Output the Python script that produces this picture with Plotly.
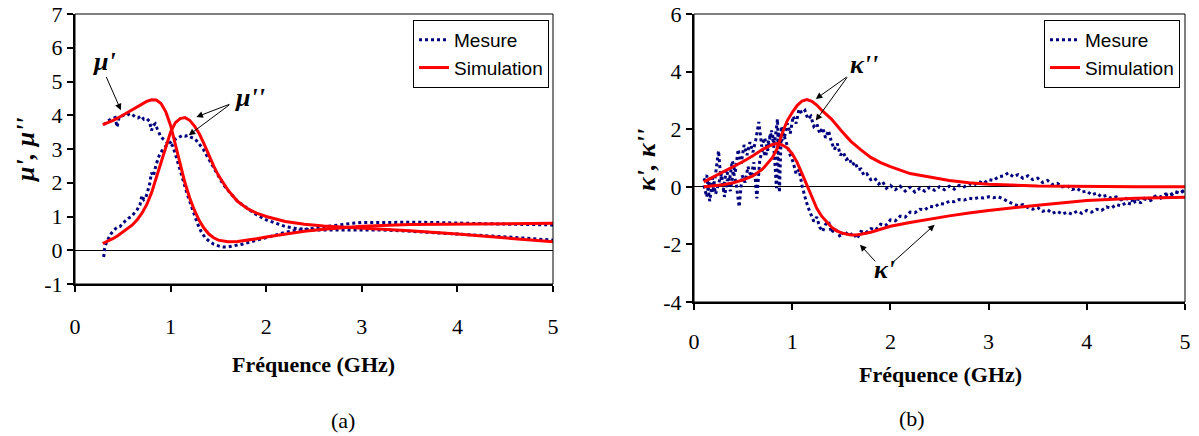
import plotly.graph_objects as go

# ---------------- Panel (a): permeability mu', mu'' ----------------
mu_meas_re_x = [0.30,0.33,0.36,0.39,0.42,0.44,0.46,0.48,0.51,0.54,0.57,0.60,0.63,0.66,0.69,0.72,0.75,0.78,0.80,0.82,0.84,0.86,0.88,0.90,0.93,0.96,0.99,1.02,1.05,1.08,1.11,1.14,1.17,1.20,1.24,1.28,1.32,1.36,1.40,1.45,1.50,1.55,1.60,1.65,1.70,1.75,1.80,1.90,2.00,2.10,2.20,2.30,2.40,2.50,2.60,2.70,2.80,2.90,3.00,3.20,3.40,3.60,3.80,4.00,4.20,4.40,4.60,4.80,5.00]
mu_meas_re_y = [3.72,3.80,3.86,3.90,3.93,3.65,3.92,3.96,4.00,3.98,4.05,4.02,3.95,3.92,3.98,3.88,3.90,3.82,3.55,3.70,3.75,3.60,3.45,3.35,3.28,3.20,3.18,3.10,2.85,2.55,2.25,1.95,1.70,1.45,1.10,0.80,0.55,0.38,0.28,0.18,0.13,0.10,0.10,0.12,0.15,0.18,0.22,0.30,0.36,0.45,0.53,0.58,0.62,0.66,0.70,0.74,0.78,0.80,0.82,0.83,0.84,0.83,0.82,0.80,0.80,0.78,0.77,0.76,0.75]

mu_meas_im_x = [0.30,0.31,0.33,0.35,0.38,0.41,0.44,0.47,0.50,0.53,0.56,0.59,0.62,0.65,0.68,0.70,0.72,0.74,0.76,0.78,0.80,0.82,0.85,0.88,0.91,0.94,0.97,1.00,1.03,1.06,1.09,1.12,1.15,1.18,1.21,1.24,1.27,1.30,1.34,1.38,1.42,1.46,1.50,1.55,1.60,1.65,1.70,1.75,1.80,1.90,2.00,2.10,2.20,2.30,2.40,2.50,2.60,2.70,2.80,2.90,3.00,3.20,3.40,3.60,3.80,4.00,4.20,4.40,4.60,4.80,5.00]
mu_meas_im_y = [-0.20,0.05,0.25,0.35,0.50,0.60,0.68,0.70,0.80,0.88,0.95,1.00,1.10,1.20,1.35,1.62,1.50,1.55,1.75,1.95,2.30,2.20,2.55,2.80,2.95,3.05,3.15,3.20,3.28,3.30,3.36,3.40,3.38,3.40,3.35,3.32,3.25,3.15,3.00,2.80,2.60,2.40,2.20,1.95,1.78,1.60,1.45,1.35,1.25,1.05,0.90,0.80,0.70,0.65,0.62,0.60,0.60,0.60,0.61,0.62,0.62,0.60,0.58,0.55,0.52,0.48,0.45,0.42,0.38,0.34,0.30]

mu_sim_x = [0.29,0.35,0.40,0.45,0.50,0.55,0.60,0.65,0.70,0.75,0.80,0.85,0.90,0.95,1.00,1.05,1.10,1.15,1.20,1.25,1.30,1.35,1.40,1.45,1.50,1.60,1.70,1.80,1.90,2.00,2.20,2.40,2.60,2.80,3.00,3.50,4.00,4.50,5.00]
mu_sim_re = [3.72,3.78,3.85,3.92,4.00,4.08,4.16,4.25,4.33,4.41,4.46,4.45,4.35,4.10,3.70,3.15,2.55,2.00,1.55,1.18,0.88,0.65,0.48,0.37,0.30,0.25,0.26,0.29,0.34,0.39,0.48,0.56,0.62,0.67,0.71,0.76,0.78,0.79,0.80]
mu_sim_im = [0.20,0.27,0.35,0.44,0.55,0.65,0.75,0.90,1.10,1.35,1.70,2.15,2.60,3.10,3.50,3.78,3.90,3.93,3.85,3.68,3.45,3.15,2.82,2.50,2.22,1.78,1.45,1.24,1.10,1.00,0.85,0.77,0.72,0.69,0.66,0.58,0.48,0.37,0.25]

# ---------------- Panel (b): kappa', kappa'' ----------------
k_meas_re_x = [0.10,0.13,0.16,0.19,0.22,0.25,0.27,0.30,0.33,0.36,0.39,0.42,0.45,0.48,0.51,0.54,0.57,0.60,0.63,0.66,0.69,0.72,0.75,0.78,0.81,0.84,0.86,0.89,0.92,0.95,0.98,1.01,1.04,1.07,1.10,1.13,1.16,1.19,1.22,1.25,1.28,1.31,1.34,1.37,1.40,1.43,1.46,1.49,1.52,1.55,1.58,1.62,1.66,1.70,1.75,1.80,1.85,1.90,1.95,2.00,2.05,2.10,2.15,2.20,2.25,2.30,2.35,2.40,2.45,2.50,2.55,2.60,2.65,2.70,2.75,2.80,2.85,2.90,2.95,3.00,3.05,3.10,3.15,3.20,3.25,3.30,3.35,3.40,3.45,3.50,3.55,3.60,3.65,3.70,3.75,3.80,3.85,3.90,3.95,4.00,4.05,4.10,4.15,4.20,4.25,4.30,4.35,4.40,4.45,4.50,4.55,4.60,4.65,4.70,4.75,4.80,4.85,4.90,4.95,5.00]
k_meas_re_y = [0.05,-0.35,0.30,-0.20,0.45,1.25,0.40,-0.10,0.60,0.20,0.90,0.50,1.30,0.80,1.45,1.10,1.55,1.20,1.65,2.25,1.40,1.70,1.25,1.85,1.55,-0.05,1.90,1.60,1.75,1.40,1.10,0.85,0.45,0.60,0.05,-0.35,-0.70,-0.95,-1.20,-1.05,-1.40,-1.55,-1.30,-1.20,-1.60,-1.45,-1.55,-1.75,-1.55,-1.60,-1.70,-1.60,-1.80,-1.55,-1.60,-1.45,-1.50,-1.30,-1.35,-1.15,-1.18,-1.02,-1.05,-0.88,-0.90,-0.78,-0.80,-0.68,-0.70,-0.58,-0.60,-0.50,-0.52,-0.44,-0.46,-0.40,-0.42,-0.37,-0.39,-0.35,-0.38,-0.35,-0.42,-0.52,-0.60,-0.66,-0.62,-0.72,-0.78,-0.72,-0.85,-0.80,-0.92,-0.85,-0.95,-0.88,-0.95,-0.85,-0.92,-0.82,-0.88,-0.78,-0.82,-0.70,-0.74,-0.62,-0.66,-0.55,-0.60,-0.50,-0.55,-0.42,-0.48,-0.36,-0.40,-0.28,-0.32,-0.18,-0.22,-0.10]

k_meas_im_x = [0.10,0.13,0.16,0.19,0.22,0.25,0.28,0.31,0.34,0.37,0.40,0.43,0.46,0.49,0.52,0.55,0.58,0.61,0.64,0.67,0.70,0.73,0.76,0.79,0.82,0.85,0.87,0.89,0.92,0.95,0.98,1.01,1.04,1.07,1.10,1.13,1.16,1.19,1.22,1.25,1.28,1.31,1.34,1.37,1.40,1.43,1.46,1.49,1.52,1.55,1.58,1.61,1.64,1.67,1.70,1.73,1.76,1.80,1.84,1.88,1.92,1.96,2.00,2.05,2.10,2.15,2.20,2.25,2.30,2.35,2.40,2.45,2.50,2.55,2.60,2.65,2.70,2.75,2.80,2.85,2.90,2.95,3.00,3.05,3.10,3.15,3.20,3.25,3.30,3.35,3.40,3.45,3.50,3.55,3.60,3.65,3.70,3.75,3.80,3.85,3.90,3.95,4.00,4.05,4.10,4.15,4.20,4.25,4.30,4.35,4.40,4.45,4.50,4.55,4.60,4.65,4.70,4.75,4.80,4.85,4.90,4.95,5.00]
k_meas_im_y = [0.20,0.40,-0.50,0.30,-0.25,0.15,0.45,-0.35,0.25,-0.15,0.55,0.10,-0.70,0.40,0.15,0.70,0.35,0.85,-0.40,0.95,1.30,1.05,1.60,1.95,1.50,2.35,-0.20,2.10,1.70,2.20,1.85,2.45,2.20,2.70,2.55,2.65,2.35,2.45,2.10,2.20,1.85,2.05,1.70,1.95,1.55,1.30,1.50,1.10,1.20,0.95,1.00,0.75,0.85,0.60,0.62,0.40,0.45,0.25,0.30,0.10,0.18,-0.05,0.05,-0.10,0.02,-0.15,-0.02,-0.18,-0.05,-0.15,-0.02,-0.12,0.00,-0.10,0.02,-0.08,0.05,0.00,0.10,0.05,0.18,0.12,0.25,0.22,0.35,0.38,0.48,0.35,0.42,0.30,0.38,0.25,0.30,0.15,0.22,0.08,0.12,0.00,0.05,-0.10,-0.05,-0.18,-0.15,-0.28,-0.22,-0.35,-0.30,-0.40,-0.35,-0.45,-0.40,-0.48,-0.42,-0.45,-0.38,-0.42,-0.32,-0.35,-0.25,-0.28,-0.18,-0.20,-0.12]

k_sim_im_x = [0.10,0.20,0.30,0.40,0.50,0.60,0.70,0.80,0.85,0.90,0.95,1.00,1.05,1.10,1.15,1.20,1.25,1.30,1.40,1.50,1.60,1.70,1.80,1.90,2.00,2.20,2.40,2.60,2.80,3.00,3.50,4.00,4.50,5.00]
k_sim_im_y = [0.00,0.03,0.07,0.14,0.24,0.38,0.62,1.02,1.35,1.88,2.30,2.58,2.82,2.98,3.03,2.97,2.84,2.66,2.35,1.95,1.57,1.28,1.02,0.84,0.70,0.46,0.33,0.22,0.14,0.09,0.03,0.01,0.00,0.00]

k_sim_re_x = [0.10,0.20,0.30,0.40,0.50,0.60,0.70,0.80,0.85,0.90,0.95,1.00,1.05,1.10,1.15,1.20,1.25,1.30,1.35,1.40,1.45,1.50,1.55,1.60,1.65,1.70,1.80,1.90,2.00,2.20,2.40,2.60,2.80,3.00,3.50,4.00,4.50,5.00]
k_sim_re_y = [0.17,0.35,0.52,0.69,0.88,1.08,1.30,1.47,1.50,1.45,1.35,1.15,0.85,0.46,0.05,-0.35,-0.75,-1.02,-1.22,-1.40,-1.52,-1.60,-1.64,-1.67,-1.67,-1.65,-1.58,-1.47,-1.37,-1.24,-1.12,-1.01,-0.91,-0.82,-0.64,-0.48,-0.40,-0.36]

# tick labels (plain hyphen for negatives, as in the reference)
x_ticks = [0, 1, 2, 3, 4, 5]
x_ticktext = ["0", "1", "2", "3", "4", "5"]
mu_yticks = [-1, 0, 1, 2, 3, 4, 5, 6, 7]
mu_yticktext = ["-1", "0", "1", "2", "3", "4", "5", "6", "7"]
k_yticks = [-4, -2, 0, 2, 4, 6]
k_yticktext = ["-4", "-2", "0", "2", "4", "6"]

NAVY = "#00007f"
RED = "#ff0000"
SERIF = "Liberation Serif"
SANS = "Liberation Sans"

fig = go.Figure()

def meas(x, y, xa, ya, legend, show):
    return go.Scatter(x=x, y=y, xaxis=xa, yaxis=ya, mode="lines", name="Mesure",
                      line=dict(color=NAVY, width=3, dash="dot"),
                      legend=legend, showlegend=show)

def sim(x, y, xa, ya, legend, show):
    return go.Scatter(x=x, y=y, xaxis=xa, yaxis=ya, mode="lines", name="Simulation",
                      line=dict(color=RED, width=3),
                      legend=legend, showlegend=show)

fig.add_trace(meas(mu_meas_re_x, mu_meas_re_y, "x", "y", "legend", True))
fig.add_trace(meas(mu_meas_im_x, mu_meas_im_y, "x", "y", "legend", False))
fig.add_trace(sim(mu_sim_x, mu_sim_re, "x", "y", "legend", True))
fig.add_trace(sim(mu_sim_x, mu_sim_im, "x", "y", "legend", False))

fig.add_trace(meas(k_meas_re_x, k_meas_re_y, "x2", "y2", "legend2", True))
fig.add_trace(meas(k_meas_im_x, k_meas_im_y, "x2", "y2", "legend2", False))
fig.add_trace(sim(k_sim_im_x, k_sim_im_y, "x2", "y2", "legend2", True))
fig.add_trace(sim(k_sim_re_x, k_sim_re_y, "x2", "y2", "legend2", False))

W, H = 1199, 436
def px(v): return v / W
def py(v): return 1 - v / H

tickfont = dict(family=SERIF, size=22, color="black")
axcommon = dict(showline=True, linecolor="black", linewidth=2, ticks="outside",
                ticklen=6, tickwidth=2, tickcolor="black", showgrid=False,
                tickfont=tickfont, fixedrange=True, automargin=False,
                tickmode="array")

fig.update_layout(
    width=W, height=H, margin=dict(l=0, r=0, t=0, b=0, autoexpand=False),
    paper_bgcolor="white", plot_bgcolor="white",
    xaxis=dict(domain=[px(75), px(553)], range=[0, 5], tickvals=x_ticks, ticktext=x_ticktext,
               zeroline=False, anchor="y", ticklabelstandoff=16, **axcommon),
    yaxis=dict(domain=[py(284), py(14)], range=[-1, 7], tickvals=mu_yticks, ticktext=mu_yticktext,
               zeroline=True, zerolinecolor="black", zerolinewidth=1, anchor="x", **axcommon),
    xaxis2=dict(domain=[px(694), px(1185)], range=[0, 5], tickvals=x_ticks, ticktext=x_ticktext,
                zeroline=False, anchor="y2", ticklabelstandoff=13, **axcommon),
    yaxis2=dict(domain=[py(302), py(14)], range=[-4, 6], tickvals=k_yticks, ticktext=k_yticktext,
                zeroline=True, zerolinecolor="black", zerolinewidth=1, anchor="x2", **axcommon),
    legend=dict(x=px(549), xanchor="right", y=py(20), yanchor="top",
                bordercolor="black", borderwidth=1, bgcolor="white",
                font=dict(family=SANS, size=19, color="black"),
                tracegroupgap=0, itemwidth=30),
    legend2=dict(x=px(1180), xanchor="right", y=py(20), yanchor="top",
                 bordercolor="black", borderwidth=1, bgcolor="white",
                 font=dict(family=SANS, size=19, color="black"),
                 tracegroupgap=0, itemwidth=30),
    showlegend=True,
)

# thin frame on top/right
for xr, yr in (("x domain", "y domain"), ("x2 domain", "y2 domain")):
    fig.add_shape(type="rect", xref=xr, yref=yr, x0=0, x1=1, y0=0, y1=1,
                  line=dict(color="black", width=1), layer="above")

anns = []
lab = dict(family=SERIF, size=26, color="black")
C = dict(xanchor="center", yanchor="middle")
# panel (a) labels
anns.append(dict(x=0.30, y=5.58, xref="x", yref="y", text="<b><i>μ'</i></b>",
                 showarrow=False, font=lab, **C))
anns.append(dict(x=1.83, y=4.54, xref="x", yref="y", text="<b><i>μ''</i></b>",
                 showarrow=False, font=lab, **C))
arrows_a = [((0.32, 5.18), (0.48, 4.15)), ((1.63, 4.34), (1.27, 3.95)), ((1.63, 4.34), (1.19, 3.41))]
for (tx, ty), (hx, hy) in arrows_a:
    anns.append(dict(x=hx, y=hy, ax=tx, ay=ty, xref="x", yref="y", axref="x", ayref="y",
                     text="", showarrow=True, arrowhead=2, arrowsize=1.3, arrowwidth=1,
                     arrowcolor="black", standoff=0, startstandoff=0))
# panel (b) labels
anns.append(dict(x=1.73, y=4.25, xref="x2", yref="y2", text="<b><i>κ''</i></b>",
                 showarrow=False, font=lab, **C))
anns.append(dict(x=1.94, y=-2.87, xref="x2", yref="y2", text="<b><i>κ'</i></b>",
                 showarrow=False, font=lab, **C))
arrows_b = [((1.57, 3.85), (1.24, 3.05)), ((1.57, 3.85), (1.24, 2.30)),
            ((1.86, -2.64), (1.69, -2.01)), ((2.02, -2.64), (2.45, -1.32))]
for (tx, ty), (hx, hy) in arrows_b:
    anns.append(dict(x=hx, y=hy, ax=tx, ay=ty, xref="x2", yref="y2", axref="x2", ayref="y2",
                     text="", showarrow=True, arrowhead=2, arrowsize=1.3, arrowwidth=1,
                     arrowcolor="black", standoff=0, startstandoff=0))

titlefont = dict(family=SERIF, size=22, color="black")
anns.append(dict(x=px(314), y=py(364), xref="paper", yref="paper",
                 text="<b>Fréquence (GHz)</b>", showarrow=False, font=titlefont, **C))
anns.append(dict(x=px(940), y=py(374), xref="paper", yref="paper",
                 text="<b>Fréquence (GHz)</b>", showarrow=False, font=titlefont, **C))
anns.append(dict(x=px(25), y=py(150), xref="paper", yref="paper", textangle=-90,
                 text="<b><i>μ', μ''</i></b>", showarrow=False,
                 font=dict(family=SERIF, size=26, color="black"), **C))
anns.append(dict(x=px(646), y=py(160), xref="paper", yref="paper", textangle=-90,
                 text="<b><i>κ', κ''</i></b>", showarrow=False,
                 font=dict(family=SERIF, size=26, color="black"), **C))
anns.append(dict(x=px(343), y=py(420), xref="paper", yref="paper",
                 text="(a)", showarrow=False, font=dict(family=SERIF, size=22, color="black"), **C))
anns.append(dict(x=px(912), y=py(418), xref="paper", yref="paper",
                 text="(b)", showarrow=False, font=dict(family=SERIF, size=22, color="black"), **C))

fig.update_layout(annotations=anns)
fig.write_html("out.html", config={"displayModeBar": False},
               post_script="document.body.style.margin='0px';")
